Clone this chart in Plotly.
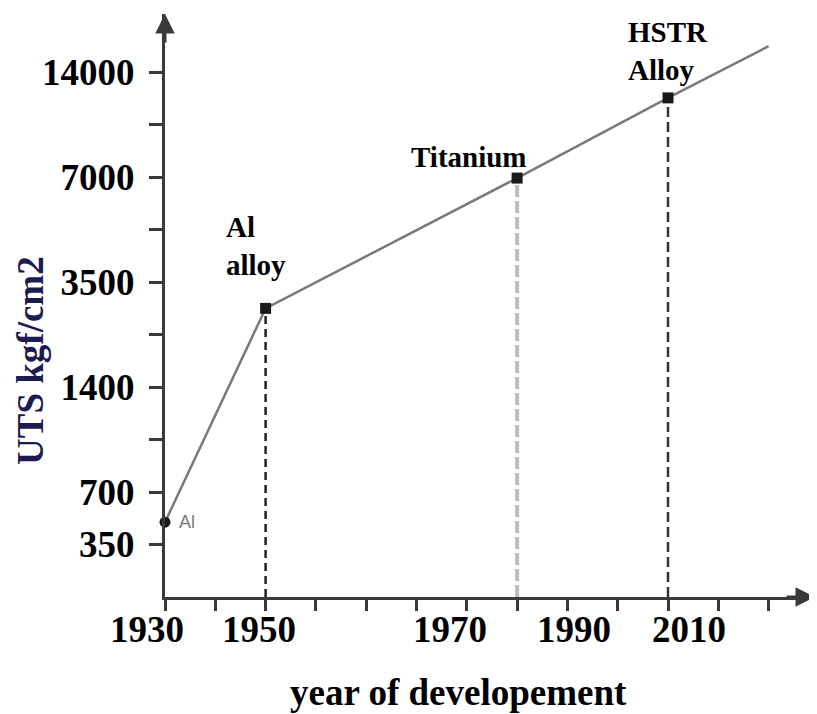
import numpy as np
import plotly.graph_objects as go

# ---- data ----
materials = ["Al", "Al alloy", "Titanium", "HSTR Alloy"]
years = [1930, 1946, 1986, 2010]
uts = [470, 2780, 6950, 11800]
line_end_year = 2026
line_end_uts = 16600

# y-axis tick labels (axis is drawn with evenly spaced levels)
ytick_uts = [350, 700, 1400, 3500, 7000, 14000]
ytick_levels = [1, 2, 4, 6, 8, 10]
yminor_levels = [3, 5, 7, 9]

# x-axis tick labels as printed
xlabel_text = ["1930", "1950", "1970", "1990", "2010"]
xlabel_pos = [1927.1, 1945.0, 1975.3, 1995.0, 2013.3]
x_tick_step = 8


def to_level(v):
    lv = np.log(np.asarray(v, dtype=float))
    lt = np.log(np.array(ytick_uts, dtype=float))
    lev = np.array(ytick_levels, dtype=float)
    out = np.interp(lv, lt, lev)
    hi = lv > lt[-1]
    slope = (lev[-1] - lev[-2]) / (lt[-1] - lt[-2])
    out[hi] = lev[-1] + (lv[hi] - lt[-1]) * slope
    return out


lev = to_level(uts)
lev_end = to_level([line_end_uts])[0]

fig = go.Figure()

# dashed drop lines
drop_styles = [None,
               dict(color="#222222", width=2.5, dash="8px,5px"),
               dict(color="#bdbdbd", width=4, dash="12px,4px"),
               dict(color="#333333", width=2.5, dash="10px,5px")]
for i in range(1, 4):
    fig.add_trace(go.Scatter(x=[years[i], years[i]], y=[0, lev[i]], mode="lines",
                             line=drop_styles[i], hoverinfo="skip", showlegend=False))

# main line
fig.add_trace(go.Scatter(x=years + [line_end_year], y=list(lev) + [lev_end], mode="lines",
                         line=dict(color="#7a7a7a", width=2.5), showlegend=False,
                         cliponaxis=False))
# markers
fig.add_trace(go.Scatter(x=years, y=lev, mode="markers",
                         marker=dict(symbol=["circle", "square", "square", "square"],
                                     size=11, color="#1a1a1a"),
                         showlegend=False, cliponaxis=False))

serif = "Liberation Serif, Times New Roman, serif"
xr0, xr1 = 1930, 1930 + 650 / 6.2875
yr1 = 583 / 52.5

fig.update_layout(
    width=809, height=706,
    margin=dict(l=157, r=2, t=6, b=117, autoexpand=False),
    paper_bgcolor="white", plot_bgcolor="white",
    showlegend=False,
    xaxis=dict(range=[xr0, xr1], showgrid=False, zeroline=False, automargin=False,
               showline=True, linecolor="#3a3a3a", linewidth=3,
               tickmode="linear", tick0=1930, dtick=x_tick_step,
               ticks="outside", ticklen=11, tickwidth=3, tickcolor="#3a3a3a",
               showticklabels=False),
    yaxis=dict(range=[0, yr1], showgrid=False, zeroline=False, automargin=False,
               showline=True, linecolor="#3a3a3a", linewidth=3,
               tickmode="array",
               tickvals=ytick_levels + yminor_levels,
               ticktext=[str(v) for v in ytick_uts] + [""] * len(yminor_levels),
               ticks="outside", ticklen=13, tickwidth=3, tickcolor="#3a3a3a",
               ticklabelstandoff=7,
               tickfont=dict(family=serif, size=37, color="black", weight="bold")),
)

# x tick labels (placed where the picture prints them)
tick_font = dict(family=serif, size=37, color="black", weight="bold")
for txt, pos in zip(xlabel_text, xlabel_pos):
    fig.add_annotation(x=(pos - xr0) / (xr1 - xr0), y=(597 - 629) / 583,
                       xref="paper", yref="paper", text=txt, showarrow=False,
                       xanchor="center", yanchor="middle", font=tick_font)

# axis arrows
fig.add_annotation(x=1930, y=yr1, xref="x", yref="y", ax=0, ay=30, showarrow=True,
                   arrowhead=2, arrowsize=1.3, arrowwidth=3, arrowcolor="#3a3a3a", text="")
fig.add_annotation(x=1.0, y=0, xref="paper", yref="paper", ax=-30, ay=0, showarrow=True,
                   arrowhead=2, arrowsize=1.3, arrowwidth=3, arrowcolor="#3a3a3a", text="")

# material labels
lab_font = dict(family=serif, size=29, color="black", weight="bold")
fig.add_annotation(x=years[1], y=lev[1], text="Al<br>alloy", showarrow=False, align="left",
                   xshift=-10, yshift=62, font=lab_font)
fig.add_annotation(x=years[2], y=lev[2], text="Titanium", showarrow=False,
                   xshift=-48, yshift=21, font=lab_font)
fig.add_annotation(x=years[3], y=lev[3], text="HSTR<br>Alloy", showarrow=False, align="left",
                   xshift=0, yshift=47, font=lab_font)
fig.add_annotation(x=years[0], y=lev[0], text="Al", showarrow=False,
                   xshift=22, yshift=0,
                   font=dict(family="Liberation Sans, Arial, sans-serif", size=18, color="#7a7a7a"))

# axis titles
fig.add_annotation(x=(458 - 165) / 650, y=(597 - 692) / 583, xref="paper", yref="paper",
                   text="year of developement", showarrow=False,
                   xanchor="center", yanchor="middle",
                   font=dict(family=serif, size=37, color="black", weight="bold"))
fig.add_annotation(x=0, y=(597 - 361) / 583, xref="paper", yref="paper", xshift=-135,
                   xanchor="center", yanchor="middle",
                   text="UTS kgf/cm2", textangle=-90, showarrow=False,
                   font=dict(family=serif, size=37, color="#1c1c50", weight="bold"))

fig.write_html("out.html")
